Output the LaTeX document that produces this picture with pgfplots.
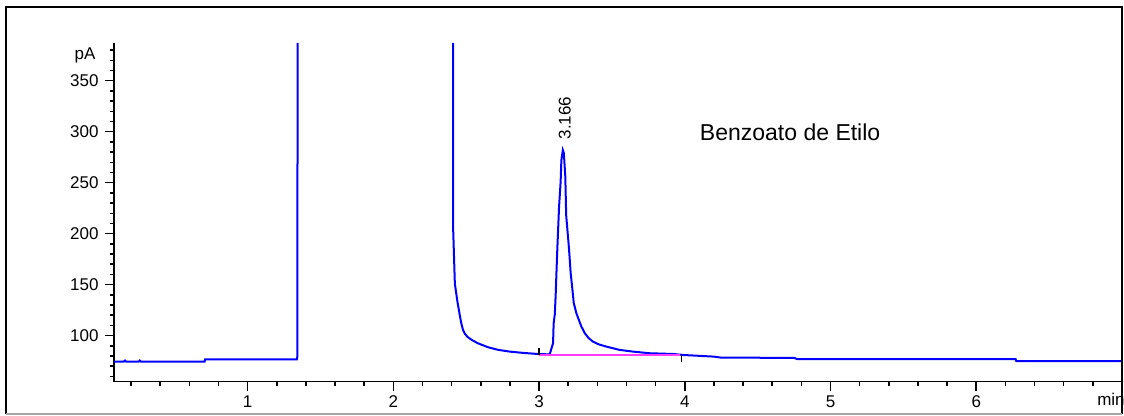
\documentclass[border=0pt]{standalone}
\usepackage{pgfplots}
\pgfplotsset{compat=1.18}
\usepackage{fontspec}
\setmainfont{Liberation Sans}
\definecolor{trace}{RGB}{0,0,255}
\definecolor{basel}{RGB}{255,60,255}
\pgfplotstableread{
x y
0.083 74.5
0.150 74.5
0.158 75.6
0.166 74.5
0.252 74.5
0.260 75.6
0.268 74.5
0.705 74.5
0.708 76.6
1.338 76.6
1.341 79.5
1.343 387
nan nan
2.410 387
2.411 202
2.422 151
2.440 133
2.456 120
2.465 113
2.477 106
2.490 102
2.510 98.6
2.540 95.6
2.580 92.5
2.650 88.6
2.720 86.0
2.800 84.3
2.880 83.2
2.990 82.0
3.070 81.6
3.075 82.6
3.096 92.6
3.100 112
3.108 121
3.114 140
3.123 177
3.137 226
3.148 251
3.153 272
3.163 282
3.170 279
3.180 256
3.186 218
3.205 186
3.217 161
3.229 145
3.238 132
3.256 122
3.274 115
3.290 109
3.314 102.3
3.340 97.6
3.370 94.1
3.410 91.4
3.462 89.2
3.553 86.0
3.645 84.3
3.760 82.7
3.920 82.0
3.990 81.0
4.200 79.4
4.250 78.4
4.750 78.2
4.770 77.0
6.270 76.9
6.275 74.9
7.000 74.9
}\trace
\begin{document}
\begin{tikzpicture}[x=1pt,y=1pt]
\useasboundingbox (0,0) rectangle (1124,415);
\fill[white] (0,0) rectangle (1124,415);
\begin{axis}[
  at={(114pt,33.5pt)}, anchor=south west,
  scale only axis, width=1008pt, height=338.5pt,
  xmin=0.083, xmax=7.0, ymin=55, ymax=387,
  axis x line=bottom, axis y line=left,
  axis line style={-, line width=1.7pt, black},
  xtick={1,2,3,4,5,6},
  minor xtick={0.2,0.4,0.6,0.8,1.2,1.4,1.6,1.8,2.2,2.4,2.6,2.8,3.2,3.4,3.6,3.8,4.2,4.4,4.6,4.8,5.2,5.4,5.6,5.8,6.2,6.4,6.6,6.8},
  ytick={100,150,200,250,300,350},
  minor ytick={60,70,80,90,110,120,130,140,160,170,180,190,210,220,230,240,260,270,280,290,310,320,330,340,360,370,380},
  tick align=outside, major tick length=9pt, minor tick length=4.5pt,
  tick style={black, line width=1.5pt},
  tick label style={font=\fontsize{17}{19}\selectfont},
  xticklabel style={yshift=-2pt},
  yticklabel style={xshift=-3pt},
  /pgf/number format/assume math mode=true,
  clip=false, unbounded coords=jump,
]
\addplot[trace, line width=2pt, mark=none] table[x=x,y=y] {\trace};
\addplot[basel, line width=2pt, mark=none] coordinates {(3.0,81) (3.965,81)};
\addplot[black, line width=1.3pt, mark=none] coordinates {(3.0,81) (3.0,88)};
\addplot[black, line width=1.3pt, mark=none] coordinates {(3.977,81) (3.977,74.5)};
\node[font=\fontsize{17}{19}\selectfont, anchor=east] at (axis cs:-0.02,375) {pA};
\node[font=\fontsize{17}{19}\selectfont, rotate=90, anchor=west] at (axis cs:3.176,289) {3.166};
\node[font=\fontsize{23}{27}\selectfont, anchor=west] at (axis cs:4.08,299) {Benzoato de Etilo};
\node[font=\fontsize{17}{19}\selectfont, anchor=north east, inner sep=0pt] at (axis cs:7.02,44) {min};
\end{axis}
\draw[black, line width=1.5pt] (6,1) -- (6,408) -- (1122,408) -- (1122,1);
\draw[gray!70, line width=1.5pt] (6,1) -- (1122,1);
\end{tikzpicture}
\end{document}
